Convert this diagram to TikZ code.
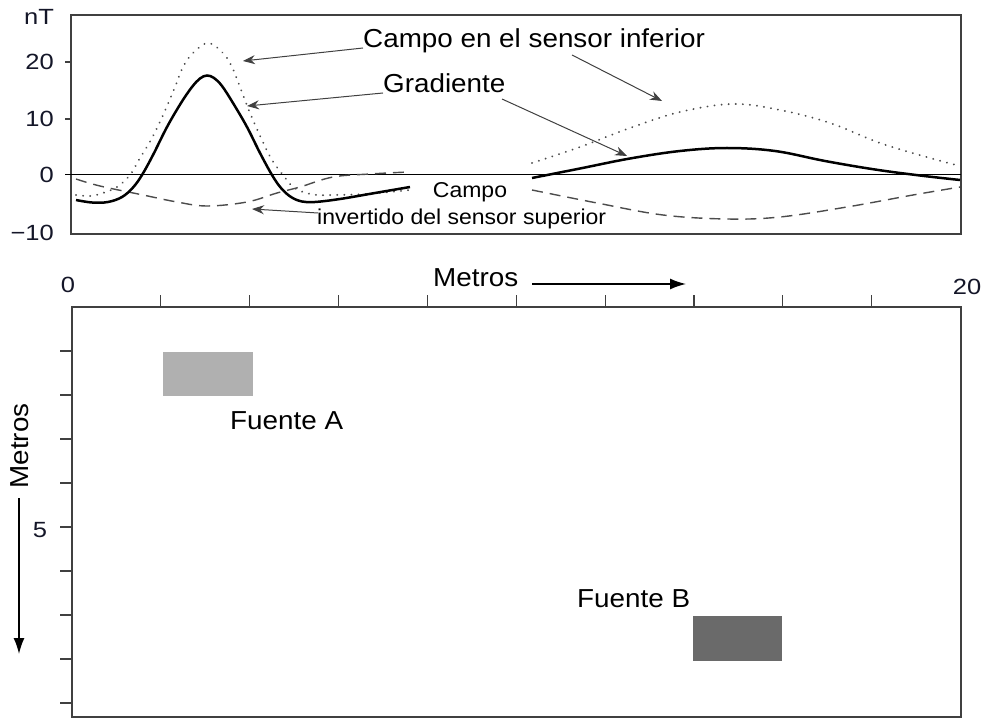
\documentclass[tikz,border=0pt]{standalone}
\usepackage{fontspec}
\setmainfont{Liberation Sans}[FakeStretch=1.07]
\newfontfamily\numfont{Liberation Sans}[FakeStretch=1.16]
\usetikzlibrary{arrows.meta,calc}
\begin{document}
\begin{tikzpicture}[x=1pt,y=-1pt,
  frame/.style={draw=black!75, line width=1.3pt},
  tickline/.style={draw=black!75, line width=1.2pt},
  lbl/.style={inner sep=0pt, font=\fontsize{26}{30}\selectfont},
  smalllbl/.style={inner sep=0pt, font=\fontsize{21.5}{25}\selectfont},
  num/.style={inner sep=0pt, font=\numfont\fontsize{22}{26}\selectfont, text={rgb,255:red,20;green,22;blue,40}},
  gradcurve/.style={line width=2.5pt, black},
  lowercurve/.style={line width=2pt, black!70, dash pattern=on 0.1pt off 7pt, line cap=round},
  uppercurve/.style={line width=1.4pt, black!70, dash pattern=on 11pt off 7pt},
  pointer/.style={draw=black!75, line width=1pt, -{Stealth[length=12pt,width=9pt]}},
  axisarrow/.style={draw=black, line width=1.5pt, -{Latex[length=16pt,width=11pt]}},
]
\useasboundingbox (0,0) rectangle (986,719);

% ---------- top graph ----------
\draw[frame] (71,15) rectangle (961,234);
\draw[tickline] (65,62) -- (71,62);
\draw[tickline] (65,119) -- (71,119);
\draw[line width=1pt, black] (65,175) -- (961,175);

\node[num, anchor=base] (nT) at (39,25) {nT};
\node[num, anchor=east] (y20) at (54,62) {20};
\node[num, anchor=east] (y10) at (54,119) {10};
\node[num, anchor=east] (y0) at (54,175) {0};
\node[num, anchor=east] (ym10) at (54,233) {−10};

% left anomaly
\draw[uppercurve] plot[smooth, tension=0.6] coordinates {(76,179) (100,186) (143,195) (177,202) (207,206) (247,202) (277,193) (300,187) (333,177) (370,174) (408,172)};
\draw[lowercurve] plot[smooth, tension=0.6] coordinates {(76,195) (90,196) (103,193) (117,187) (130,175) (140,158) (152,138) (164,113) (175,87) (183,67) (193,53) (208,43) (223,53) (232,67) (240,87) (250,113) (262,140) (272,160) (283,175) (292,186) (303,192) (317,195) (333,195) (367,194) (410,190)};
\draw[gradcurve] plot[smooth, tension=0.6] coordinates {(76,200) (92,202.5) (108,202) (122,197) (133,187.5) (142,175) (153,155) (167,127) (181,103) (192,87) (200,78.5) (207,75.5) (214,78) (222,86) (233,103) (247,127) (260,153) (272,175) (281,188) (291,197) (302,201.5) (315,202) (340,199) (375,193) (410,187)};

% right anomaly
\draw[uppercurve] plot[smooth, tension=0.6] coordinates {(532,190) (597,203) (663,215) (727,219) (780,217) (847,207) (913,195) (960,187)};
\draw[lowercurve] plot[smooth, tension=0.6] coordinates {(532,163) (580,147) (630,128) (680,112) (733,104) (780,110) (830,123) (880,143) (930,158) (960,166)};
\draw[gradcurve] plot[smooth, tension=0.6] coordinates {(532,178) (580,168.5) (630,158.5) (680,151) (727,148) (775,151) (825,161) (875,169.5) (920,175.5) (960,180)};

% labels and pointers
\node[lbl, anchor=base west] (cinf) at (363,48) {Campo en el sensor inferior};
\node[lbl, anchor=base west] (gradlbl) at (383,93) {Gradiente};
\node[smalllbl, anchor=base] (campo) at (470,198) {Campo};
\node[smalllbl, anchor=base west] (inv) at (317,225) {invertido del sensor superior};

\coordinate (t1) at (243,61);
\coordinate (t2) at (247,106);
\coordinate (t3) at (252,209);
\coordinate (t4) at (662,101);
\coordinate (t5) at (627,156);
\draw[pointer] (cinf.base west) -- (t1);
\draw[pointer] (gradlbl.base west) -- (t2);
\draw[pointer] ($(inv.base west)+(1,-12)$) -- (t3);
\draw[pointer] ($(cinf.base west)+(209,7)$) -- (t4);
\draw[pointer] ($(gradlbl.base west)+(119,6)$) -- (t5);

% ---------- horizontal axis ----------
\node[num] (x0) at (68,285) {0};
\node[num] (x20) at (967,287) {20};
\node[lbl, anchor=base west] (metx) at (433,287) {Metros};
\coordinate (mxs) at (532,284);
\coordinate (mxe) at (686,284);
\draw[axisarrow] (mxs) -- (mxe);

% ---------- plan view ----------
\draw[frame] (72,307) rectangle (961,717);
\foreach \i in {1,...,9} {
  \draw[tickline] ({72+88.85*\i},307) -- ({72+88.85*\i},295);
  \draw[tickline] (72,{307+44*\i}) -- (60,{307+44*\i});
}
\node[num] (y5) at (40,530) {5};
\node[lbl, rotate=90, anchor=base] (mety) at (28,446) {Metros};
\coordinate (mys) at (19,498);
\coordinate (mye) at (19,654);
\draw[axisarrow] (mys) -- (mye);

\fill[fill={rgb,255:red,176;green,176;blue,176}] (163,352) rectangle (253,396);
\fill[fill={rgb,255:red,106;green,106;blue,106}] (693,616) rectangle (782,661);
\node[lbl, anchor=base west] (fa) at (230,429) {Fuente A};
\node[lbl, anchor=base west] (fb) at (577,607) {Fuente B};
\end{tikzpicture}
\end{document}
